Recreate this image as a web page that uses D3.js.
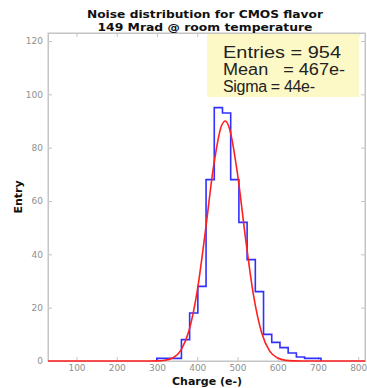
<!DOCTYPE html>
<html>
<head>
<meta charset="utf-8">
<script src="https://cdn.jsdelivr.net/npm/d3@7"></script>
<style>
  html, body { margin: 0; padding: 0; background: #fff; }
  svg { display: block; }
</style>
</head>
<body>
<svg id="chart" width="367" height="388"></svg>
<script>
// ---- data ----
const titleLines = ["Noise distribution for CMOS flavor", "149 Mrad @ room temperature"];
const xLabel = "Charge (e-)";
const yLabel = "Entry";
const xTicks = [100, 200, 300, 400, 500, 600, 700, 800];
const yTicks = [0, 20, 40, 60, 80, 100, 120];
const statLines = ["Entries = 954", "Mean   = 467e-", "Sigma = 44e-"];

// histogram: bin start, bin width, counts per bin
const binStart = 299.5;
const binWidth = 20.4;
const binCounts = [1, 1, 1, 8, 18, 28, 68, 95, 93, 68, 52, 38, 26, 10, 7, 5, 3, 1.5, 1, 1];

// fitted curve
const fitX = [29, 280, 300, 320, 340, 360, 380, 400, 420, 440, 460, 470, 480, 500, 520, 540, 560, 580, 600, 620, 640, 660, 817];
const fitY = [0, 0, 0.05, 0.3, 1.2, 4.2, 11.6, 26.3, 48.4, 72.4, 88.1, 90, 87.2, 70.2, 46, 24.5, 10.6, 3.7, 1.1, 0.25, 0.05, 0, 0];

(function () {
// ---- layout ----
const svg = d3.select("#chart");
const mLeft = 48, mRight = 365, mTop = 33, mBottom = 361;

const x = d3.scaleLinear().domain([29.2, 816.8]).range([mLeft, mRight]);
const y = d3.scaleLinear().domain([0, 123]).range([mBottom, mTop]);

const gray = "#c4c4c4";
const tickColor = "#8f8f8f";

// frame
svg.append("rect")
  .attr("x", mLeft).attr("y", mTop)
  .attr("width", mRight - mLeft).attr("height", mBottom - mTop)
  .attr("fill", "none").attr("stroke", gray).attr("stroke-width", 1);

// axes (ticks inward)
const xAxis = svg.append("g").attr("transform", `translate(0,${mBottom})`)
  .call(d3.axisBottom(x).tickValues(xTicks).tickSize(-4).tickPadding(4));
const xAxisTop = svg.append("g").attr("transform", `translate(0,${mTop})`)
  .call(d3.axisTop(x).tickValues(xTicks).tickSize(-4).tickFormat(""));
const yAxis = svg.append("g").attr("transform", `translate(${mLeft},0)`)
  .call(d3.axisLeft(y).tickValues(yTicks).tickSize(-4).tickPadding(5));
const yAxisRight = svg.append("g").attr("transform", `translate(${mRight},0)`)
  .call(d3.axisRight(y).tickValues(yTicks).tickSize(-4).tickFormat(""));

[xAxis, xAxisTop, yAxis, yAxisRight].forEach(g => {
  g.select(".domain").attr("stroke", gray);
  g.selectAll(".tick line").attr("stroke", gray);
  g.selectAll(".tick text")
    .attr("fill", tickColor)
    .style("font-family", "DejaVu Sans, sans-serif")
    .style("font-size", "9px");
});

// stats box
const box = svg.append("g");
box.append("rect")
  .attr("x", 207).attr("y", mTop + 1)
  .attr("width", 152).attr("height", 63)
  .attr("fill", "#fcf9c6");
const statWidths = [118, 122, 92];
const statAdjust = ["spacingAndGlyphs", "spacingAndGlyphs", "spacing"];
box.selectAll("text.stat").data(statLines).join("text")
  .attr("class", "stat")
  .attr("x", 223)
  .attr("y", (d, i) => 58 + i * 17)
  .attr("fill", "#222")
  .style("font-family", "Liberation Sans, Arial, sans-serif")
  .style("font-size", "16px")
  .style("white-space", "pre")
  .attr("textLength", (d, i) => statWidths[i])
  .attr("lengthAdjust", (d, i) => statAdjust[i])
  .text(d => d);

// histogram as a step outline
const histPts = [];
binCounts.forEach((c, i) => {
  const x0 = binStart + i * binWidth, x1 = x0 + binWidth;
  histPts.push([x0, c], [x1, c]);
});
histPts.unshift([binStart, 0]);
histPts.push([binStart + binCounts.length * binWidth, 0]);

svg.append("path")
  .datum(histPts)
  .attr("fill", "none")
  .attr("stroke", "#3030ff")
  .attr("stroke-width", 1.6)
  .attr("d", d3.line().x(d => x(d[0])).y(d => y(d[1])));

// fit curve
svg.append("path")
  .datum(fitX.map((v, i) => [v, fitY[i]]))
  .attr("fill", "none")
  .attr("stroke", "#ff2020")
  .attr("stroke-width", 1.6)
  .attr("d", d3.line().x(d => x(d[0])).y(d => y(d[1])).curve(d3.curveMonotoneX));

// title
svg.selectAll("text.title").data(titleLines).join("text")
  .attr("class", "title")
  .attr("x", 205)
  .attr("y", (d, i) => 18 + i * 12.5)
  .attr("text-anchor", "middle")
  .attr("fill", "#111")
  .style("font-family", "DejaVu Sans, sans-serif")
  .style("font-weight", "bold")
  .style("font-size", "10.5px")
  .attr("textLength", (d, i) => [236, 215][i])
  .attr("lengthAdjust", "spacingAndGlyphs")
  .text(d => d);

// axis labels
svg.append("text")
  .attr("x", 207).attr("y", 385)
  .attr("text-anchor", "middle")
  .attr("fill", "#111")
  .style("font-family", "DejaVu Sans, sans-serif")
  .style("font-weight", "bold")
  .style("font-size", "11px")
  .text(xLabel);

svg.append("text")
  .attr("transform", "translate(22,197) rotate(-90)")
  .attr("text-anchor", "middle")
  .attr("fill", "#111")
  .style("font-family", "DejaVu Sans, sans-serif")
  .style("font-weight", "bold")
  .style("font-size", "11px")
  .text(yLabel);
})();
</script>
</body>
</html>
